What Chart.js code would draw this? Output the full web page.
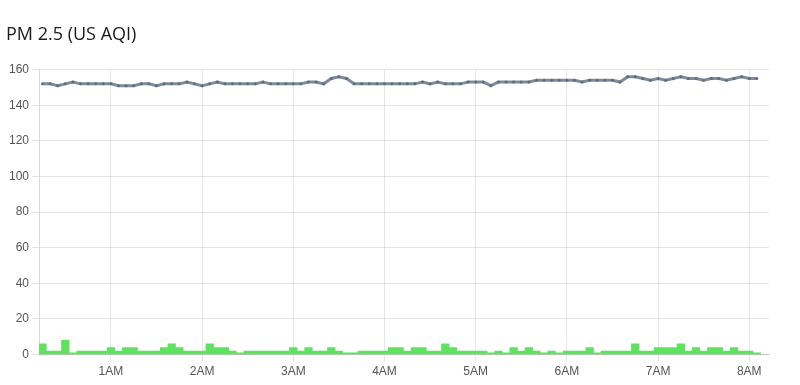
<!DOCTYPE html>
<html>
<head>
<meta charset="utf-8">
<script src="https://cdn.jsdelivr.net/npm/chart.js@4.4.1/dist/chart.umd.min.js"></script>
<style>
  html, body { margin: 0; padding: 0; background: #fff; }
  #wrap { width: 800px; height: 385px; position: relative; }
</style>
</head>
<body>
<div id="wrap"><canvas id="c"></canvas></div>
<script>
const titleText = "PM 2.5 (US AQI)";

const times = [
  "00:15","00:20","00:25","00:30","00:35","00:40","00:45","00:50","00:55",
  "01:00","01:05","01:10","01:15","01:20","01:25","01:30","01:35","01:40","01:45","01:50","01:55",
  "02:00","02:05","02:10","02:15","02:20","02:25","02:30","02:35","02:40","02:45","02:50","02:55",
  "03:00","03:05","03:10","03:15","03:20","03:25","03:30","03:35","03:40","03:45","03:50","03:55",
  "04:00","04:05","04:10","04:15","04:20","04:25","04:30","04:35","04:40","04:45","04:50","04:55",
  "05:00","05:05","05:10","05:15","05:20","05:25","05:30","05:35","05:40","05:45","05:50","05:55",
  "06:00","06:05","06:10","06:15","06:20","06:25","06:30","06:35","06:40","06:45","06:50","06:55",
  "07:00","07:05","07:10","07:15","07:20","07:25","07:30","07:35","07:40","07:45","07:50","07:55",
  "08:00","08:05"
];

const outdoorAQI = [
  152,152,151,152,153,152,152,152,152,
  152,151,151,151,152,152,151,152,152,152,153,152,
  151,152,153,152,152,152,152,152,153,152,152,152,
  152,152,153,153,152,155,156,155,152,152,152,152,
  152,152,152,152,152,153,152,153,152,152,152,153,
  153,153,151,153,153,153,153,153,154,154,154,154,
  154,154,153,154,154,154,154,153,156,156,155,154,
  155,154,155,156,155,155,154,155,155,154,155,156,
  155,155,155
];

const indoorAQI = [
  6,2,2,8,1,2,2,2,2,
  4,2,4,4,2,2,2,4,6,4,2,2,
  2,6,4,4,2,1,2,2,2,2,2,2,
  4,2,4,2,2,4,2,1,1,2,2,2,
  2,4,4,2,4,4,2,2,6,4,2,2,
  2,2,1,2,1,4,2,4,2,1,2,1,
  2,2,2,4,1,2,2,2,2,6,2,2,
  4,4,4,6,2,4,2,4,4,2,4,2,
  2,1
];

const yTicks = [0,20,40,60,80,100,120,140,160];
const hourTicks = [60,120,180,240,300,360,420,480];
const hourLabels = ["1AM","2AM","3AM","4AM","5AM","6AM","7AM","8AM"];

function toMin(t) { const p = t.split(":"); return (+p[0]) * 60 + (+p[1]); }

const linePts = times.map((t, i) => ({ x: toMin(t), y: outdoorAQI[i] }));
const barPts = times.map((t, i) => ({ x: toMin(t), y: indoorAQI[i] }));

const gridColor = "rgba(0,0,0,0.1)";
const tickFont = { family: "'Liberation Sans', Arial, sans-serif", size: 12 };

new Chart(document.getElementById("c"), {
  type: "bar",
  data: {
    datasets: [
      {
        type: "line",
        data: linePts,
        borderColor: "#7d8b9c",
        borderWidth: 3,
        pointRadius: 1.5,
        pointBackgroundColor: "#5e6c7e",
        pointBorderWidth: 0,
        tension: 0,
        order: 0
      },
      {
        type: "bar",
        data: barPts,
        backgroundColor: "#5fe35f",
        borderWidth: 0,
        barPercentage: 1,
        categoryPercentage: 1,
        order: 1
      }
    ]
  },
  options: {
    responsive: true,
    maintainAspectRatio: false,
    animation: false,
    layout: { padding: { left: 6, right: 31, top: 0, bottom: 3 } },
    plugins: {
      legend: { display: false },
      tooltip: { enabled: false },
      title: {
        display: true,
        text: titleText,
        align: "start",
        color: "#1a1a1a",
        font: { family: "'Open Sans', sans-serif", size: 18, weight: "500" },
        padding: { top: 24, bottom: 24 }
      }
    },
    scales: {
      x: {
        type: "linear",
        min: 12.7,
        max: 493,
        offset: false,
        grid: { color: gridColor, offset: false, tickLength: 7 },
        border: { color: "rgba(0,0,0,0.15)" },
        afterBuildTicks: (s) => { s.ticks = hourTicks.map(v => ({ value: v })); },
        ticks: {
          color: "#555",
          font: tickFont,
          padding: 3,
          maxRotation: 0,
          autoSkip: false,
          callback: (v) => { const k = hourTicks.indexOf(v); return k >= 0 ? hourLabels[k] : ""; }
        }
      },
      y: {
        min: 0,
        max: 160,
        grid: { color: gridColor, tickLength: 7 },
        border: { color: "rgba(0,0,0,0.15)" },
        afterBuildTicks: (s) => { s.ticks = yTicks.map(v => ({ value: v })); },
        ticks: { color: "#555", font: tickFont, padding: 3 }
      }
    }
  }
});
</script>
</body>
</html>
